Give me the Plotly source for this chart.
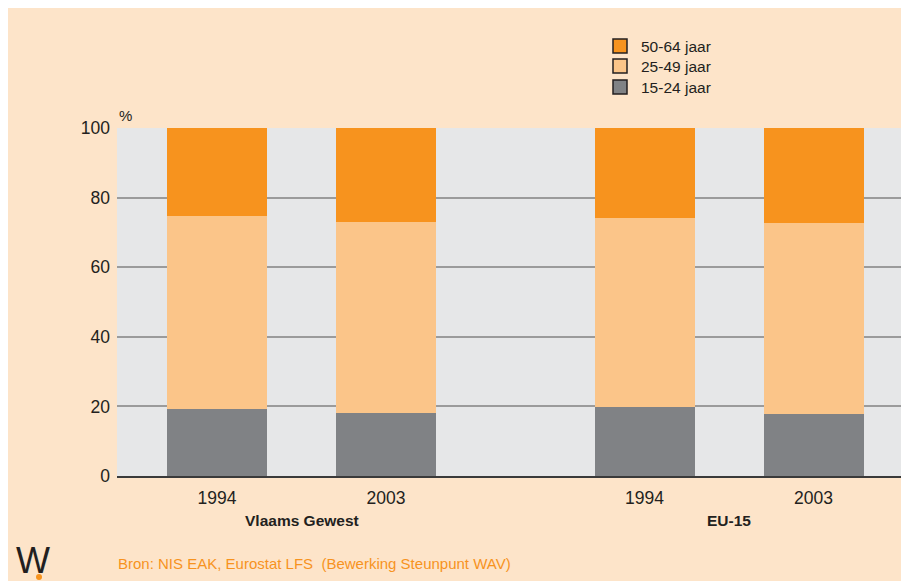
import plotly.graph_objects as go

# ---- data ----
groups = ["Vlaams Gewest", "EU-15"]
years = ["1994", "2003"]
age_15_24 = [19.3, 18.1, 19.8, 17.8]
age_25_49 = [55.4, 54.9, 54.3, 54.9]
age_50_64 = [25.3, 27.0, 25.9, 27.3]
series_names = ["15-24 jaar", "25-49 jaar", "50-64 jaar"]
series_colors = ["#808285", "#FBC589", "#F7931E"]
y_ticks = [0, 20, 40, 60, 80, 100]
source_text = "Bron: NIS EAK, Eurostat LFS  (Bewerking Steunpunt WAV)"

# ---- layout positions (bar index with a wider gap between groups) ----
group_gap = 2.53
x_pos = []
x_text = []
for gi, g in enumerate(groups):
    for yi, yr in enumerate(years):
        x_pos.append(gi * group_gap + yi)
        x_text.append(yr)
group_centers = [gi * group_gap + 0.5 for gi in range(len(groups))]

PEACH = "#FDE4C9"
FONT = "Liberation Sans, Arial, sans-serif"
TXT = "#231F20"

W, H = 901, 581
L, R, T, B = 117, 0, 128, 105
pw, ph = W - L - R, H - T - B
def px(xp): return (xp - L) / pw
def py(yp): return (H - B - yp) / ph

fig = go.Figure()
for name, vals, col in zip(series_names, [age_15_24, age_25_49, age_50_64], series_colors):
    fig.add_trace(go.Bar(x=x_pos, y=vals, name=name, marker=dict(color=col, line=dict(width=0)),
                         width=0.592, showlegend=False, hoverinfo="skip"))

annotations = [
    dict(x=c, y=0, xref="x", yref="paper", text="<b>%s</b>" % g, showarrow=False,
         yshift=-44, font=dict(family=FONT, size=15.5, color=TXT), yanchor="middle")
    for c, g in zip(group_centers, groups)
]
annotations.append(dict(x=px(117), y=py(116), xref="paper", yref="paper", text="%",
                        showarrow=False, xanchor="left", yanchor="middle",
                        font=dict(family=FONT, size=15, color=TXT)))
annotations.append(dict(x=px(116), y=py(563), xref="paper", yref="paper", text=source_text,
                        showarrow=False, xanchor="left", yanchor="middle",
                        font=dict(family=FONT, size=15, color="#F7931E")))
annotations.append(dict(x=px(33), y=py(560), xref="paper", yref="paper", text="W",
                        showarrow=False, xanchor="center", yanchor="middle",
                        font=dict(family=FONT, size=36, color="#231F20")))

shapes = [
    dict(type="circle", xref="paper", yref="paper", x0=px(36), x1=px(42), y0=py(580), y1=py(574),
         fillcolor="#F7931E", line=dict(width=0), layer="above"),
    dict(type="rect", xref="paper", yref="paper", x0=px(0), x1=px(W), y0=py(0), y1=py(8),
         fillcolor="white", line=dict(width=0), layer="above"),
    dict(type="rect", xref="paper", yref="paper", x0=px(0), x1=px(8), y0=py(H), y1=py(0),
         fillcolor="white", line=dict(width=0), layer="above"),
]

# manual legend (top to bottom: 50-64, 25-49, 15-24)
leg_rows = [46, 66, 87]
for row_y, name, col in zip(leg_rows, series_names[::-1], series_colors[::-1]):
    shapes.append(dict(type="rect", xref="paper", yref="paper",
                       x0=px(613), x1=px(627), y0=py(row_y + 7), y1=py(row_y - 7),
                       fillcolor=col, line=dict(color="#231F20", width=1.5), layer="above"))
    annotations.append(dict(x=px(639), y=py(row_y), xref="paper", yref="paper", text=name,
                            showarrow=False, xanchor="left", yanchor="middle",
                            font=dict(family=FONT, size=15.5, color=TXT)))

fig.update_layout(
    width=W, height=H,
    margin=dict(l=L, r=R, t=T, b=B, pad=0),
    paper_bgcolor=PEACH, plot_bgcolor="#E6E7E8",
    barmode="stack", bargap=0,
    showlegend=False,
    font=dict(family=FONT, size=17.5, color=TXT),
    xaxis=dict(range=[-0.592, (W - 217) / 169], tickvals=x_pos, ticktext=x_text,
               showgrid=False, zeroline=False, showline=True, linecolor="#3A3A3A", linewidth=2,
               ticks="", tickfont=dict(family=FONT, size=17.5, color=TXT), ticklabelstandoff=5,
               fixedrange=True),
    yaxis=dict(range=[0, 100], tickvals=y_ticks, showgrid=True, gridcolor="#9B9B9B", gridwidth=2,
               zeroline=False, showline=False, ticks="",
               tickfont=dict(family=FONT, size=17.5, color=TXT), ticklabelstandoff=6,
               fixedrange=True),
    annotations=annotations, shapes=shapes,
)
fig.write_html("out.html", config={"displayModeBar": False},
               post_script="document.body.style.margin='0';document.body.style.overflow='hidden';")
